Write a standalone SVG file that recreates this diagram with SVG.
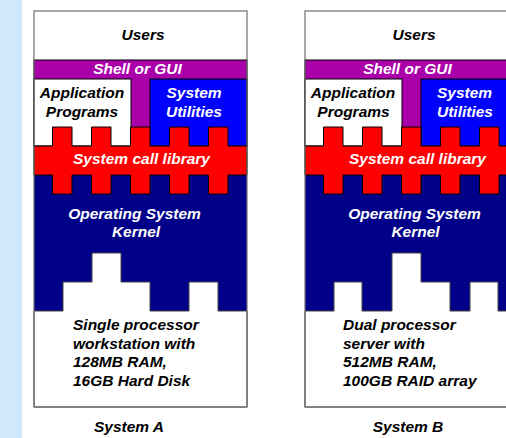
<svg xmlns="http://www.w3.org/2000/svg" width="506" height="438" viewBox="0 0 506 438">
<style>
text{font-family:"Liberation Sans",Arial,sans-serif;font-weight:bold;font-style:italic;font-size:15.5px}
.c{text-anchor:middle}
.w{fill:#fff}
.k{fill:#000}
.ln{stroke:#000;stroke-width:1}
.frame{fill:none;stroke:#6e6e6e;stroke-width:1.2}
</style>
<rect x="0" y="0" width="506" height="438" fill="#fff"/>
<rect x="0" y="0" width="22" height="438" fill="#cfe8fb"/>

<!-- System A -->
<g id="systemA">
  <g id="A-users"><rect x="34" y="11" width="213" height="49" fill="#fff"/><text class="c k" x="143" y="39.5">Users</text></g>
  <g id="A-shell"><rect class="ln" x="34" y="60" width="213" height="86" fill="#aa00aa"/><text class="c w" x="137.5" y="73.5">Shell or GUI</text></g>
  <g id="A-apps"><rect class="ln" x="34" y="79" width="97" height="67" fill="#fff"/><text class="c k" x="82" y="97.5">Application</text><text class="c k" x="82" y="116.5">Programs</text></g>
  <g id="A-utils"><rect class="ln" x="150" y="79" width="97" height="67" fill="#0000ff"/><text class="c w" x="194" y="97.5">System</text><text class="c w" x="194" y="116.5">Utilities</text></g>
  <g id="A-kernel"><rect x="34" y="175" width="213" height="136" fill="#000088"/><text class="c w" x="134.5" y="219">Operating System</text><text class="c w" x="136" y="237">Kernel</text></g>
  <g id="A-syscall"><path class="ln" fill="#ff0000" d="M34 146H52.5V127H72V146H91.5V127H111V146H130.5V127H150V146H169.5V127H189V146H208.5V127H228V146H247V175H228V194H208.5V175H189V194H169.5V175H150V194H130.5V175H111V194H91.5V175H72V194H52.5V175H34Z"/><text class="c w" x="141.5" y="164">System call library</text></g>
  <g id="A-hardware"><path fill="#fff" stroke="#444" stroke-width="1" d="M34 311H63V282H92V253H121V282H150V311H189V282H218V311H247V407H34Z"/>
    <text class="k" x="73" y="330">Single processor</text><text class="k" x="73" y="348.5">workstation with</text><text class="k" x="73" y="367">128MB RAM,</text><text class="k" x="73" y="385.5">16GB Hard Disk</text></g>
  <rect class="frame" x="34" y="11" width="213" height="396"/>
  <text id="A-label" class="c k" x="129" y="432">System A</text>
</g>

<!-- System B -->
<g id="systemB">
  <g id="B-users"><rect x="305" y="11" width="213" height="49" fill="#fff"/><text class="c k" x="414" y="39.5">Users</text></g>
  <g id="B-shell"><rect class="ln" x="305" y="60" width="213" height="86" fill="#aa00aa"/><text class="c w" x="407.5" y="73.5">Shell or GUI</text></g>
  <g id="B-apps"><rect class="ln" x="305" y="79" width="97" height="67" fill="#fff"/><text class="c k" x="353" y="97.5">Application</text><text class="c k" x="353.5" y="116.5">Programs</text></g>
  <g id="B-utils"><rect class="ln" x="421" y="79" width="97" height="67" fill="#0000ff"/><text class="c w" x="464.5" y="97.5">System</text><text class="c w" x="465" y="116.5">Utilities</text></g>
  <g id="B-kernel"><rect x="305" y="175" width="213" height="136" fill="#000088"/><text class="c w" x="414.5" y="219">Operating System</text><text class="c w" x="415.5" y="237">Kernel</text></g>
  <g id="B-syscall"><path class="ln" fill="#ff0000" transform="translate(271 0)" d="M34 146H52.5V127H72V146H91.5V127H111V146H130.5V127H150V146H169.5V127H189V146H208.5V127H228V146H247V175H228V194H208.5V175H189V194H169.5V175H150V194H130.5V175H111V194H91.5V175H72V194H52.5V175H34Z"/><text class="c w" x="417.5" y="164">System call library</text></g>
  <g id="B-hardware"><path fill="#fff" stroke="#444" stroke-width="1" d="M305 311H334V282H362V311H392V253H421V282H450V311H470V282H498V311H518V407H305Z"/>
    <text class="k" x="343" y="330">Dual processor</text><text class="k" x="343" y="348.5">server with</text><text class="k" x="343" y="367">512MB RAM,</text><text class="k" x="343" y="385.5">100GB RAID array</text></g>
  <rect class="frame" x="305" y="11" width="213" height="396"/>
  <text id="B-label" class="c k" x="408" y="432">System B</text>
</g>
</svg>
